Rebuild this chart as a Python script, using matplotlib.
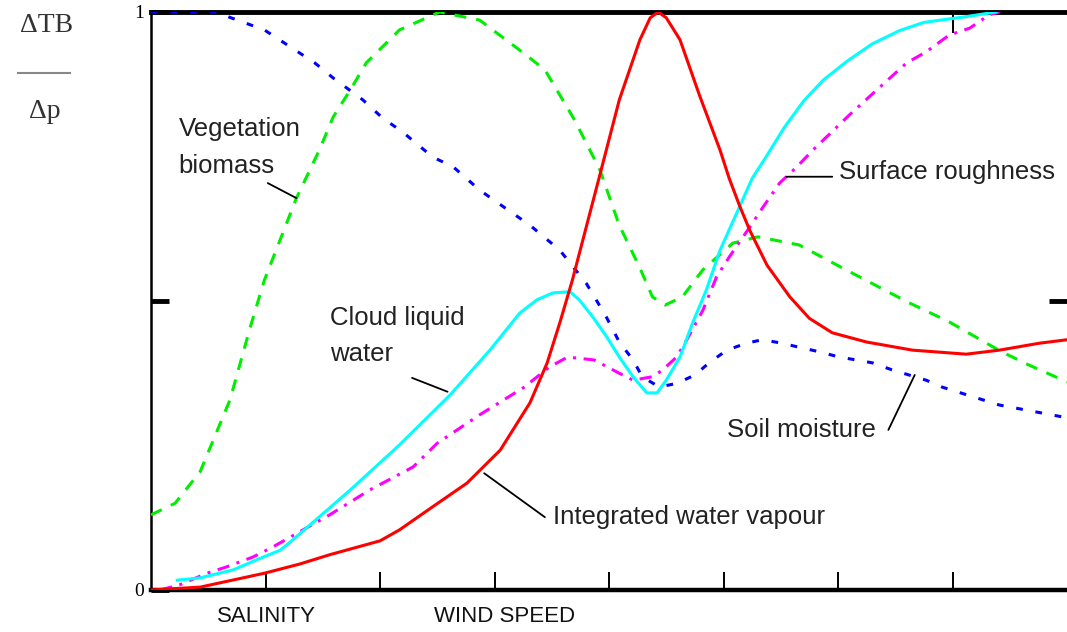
import matplotlib
matplotlib.use("Agg")
import matplotlib.pyplot as plt
from matplotlib.lines import Line2D

# ---------------- data (x: 0..8 along the axis, y: normalised dTB/dp) ----------------
veg_x = [0.00, 0.21, 0.43, 0.69, 0.86, 0.99, 1.27, 1.47, 1.59, 1.74, 1.88, 2.17, 2.52, 2.87,
         3.22, 3.44, 3.70, 3.92, 4.09, 4.27, 4.38, 4.49, 4.64, 4.82, 5.08, 5.30, 5.66, 6.04,
         6.62, 6.97, 7.43, 7.67, 8.00]
veg_y = [0.130, 0.150, 0.205, 0.329, 0.450, 0.536, 0.678, 0.761, 0.818, 0.865, 0.912, 0.969,
         1.000, 0.986, 0.934, 0.900, 0.813, 0.727, 0.631, 0.557, 0.507, 0.493, 0.507, 0.554,
         0.600, 0.611, 0.597, 0.557, 0.497, 0.464, 0.412, 0.389, 0.360]

iwv_x = [0.00, 0.43, 0.99, 1.30, 1.56, 2.00, 2.17, 2.46, 2.76, 3.05, 3.31, 3.46, 3.57, 3.68,
         3.92, 4.09, 4.27, 4.36, 4.43, 4.50, 4.62, 4.79, 4.97, 5.05, 5.14, 5.23, 5.38, 5.58,
         5.75, 5.95, 6.25, 6.65, 7.12, 7.41, 7.76, 8.00]
iwv_y = [0.000, 0.005, 0.029, 0.045, 0.061, 0.085, 0.104, 0.144, 0.185, 0.242, 0.324, 0.393,
         0.462, 0.536, 0.718, 0.848, 0.952, 0.990, 1.000, 0.990, 0.952, 0.856, 0.761, 0.712,
         0.665, 0.622, 0.562, 0.507, 0.470, 0.445, 0.429, 0.415, 0.408, 0.415, 0.427, 0.433]

soil_x = [0.00, 0.56, 0.99, 1.43, 1.59, 1.85, 2.02, 2.20, 2.46, 2.64, 2.87, 3.02, 3.31, 3.57,
          3.80, 3.90, 3.98, 4.09, 4.21, 4.29, 4.44, 4.60, 4.75, 4.88, 5.03, 5.20, 5.34, 5.51,
          5.66, 5.84, 6.01, 6.16, 6.30, 6.47, 6.62, 6.77, 6.91, 7.41, 8.00]
soil_y = [1.000, 1.000, 0.969, 0.912, 0.886, 0.848, 0.817, 0.792, 0.749, 0.732, 0.692, 0.671,
          0.631, 0.588, 0.531, 0.498, 0.471, 0.429, 0.398, 0.369, 0.351, 0.358, 0.372, 0.394,
          0.415, 0.427, 0.433, 0.427, 0.420, 0.412, 0.403, 0.398, 0.393, 0.381, 0.372, 0.363,
          0.351, 0.320, 0.298]

cloud_x = [0.23, 0.43, 0.72, 0.92, 1.13, 1.24, 1.74, 2.17, 2.61, 2.96, 3.22, 3.37, 3.51, 3.66,
           3.74, 3.86, 3.98, 4.09, 4.21, 4.33, 4.42, 4.50, 4.62, 4.73, 4.85, 4.97, 5.14, 5.25,
           5.38, 5.53, 5.70, 5.87, 6.08, 6.30, 6.54, 6.75, 7.12, 7.38]
cloud_y = [0.017, 0.021, 0.035, 0.052, 0.069, 0.087, 0.173, 0.251, 0.337, 0.415, 0.479, 0.502,
           0.514, 0.516, 0.502, 0.472, 0.438, 0.403, 0.369, 0.341, 0.341, 0.363, 0.403, 0.462,
           0.519, 0.588, 0.663, 0.712, 0.752, 0.800, 0.846, 0.882, 0.915, 0.945, 0.968, 0.982,
           0.992, 1.000]

rough_x = [0.08, 0.25, 0.49, 0.66, 0.89, 1.06, 1.56, 1.91, 2.29, 2.50, 2.87, 3.26, 3.48, 3.64,
           3.87, 4.09, 4.21, 4.38, 4.47, 4.59, 4.68, 4.82, 4.94, 5.05, 5.23, 5.34, 5.49, 5.64,
           5.78, 6.10, 6.36, 6.60, 6.77, 6.97, 7.15, 7.32, 7.41]
rough_y = [0.000, 0.009, 0.029, 0.040, 0.057, 0.074, 0.130, 0.173, 0.213, 0.254, 0.303, 0.351,
           0.386, 0.403, 0.398, 0.375, 0.363, 0.369, 0.381, 0.403, 0.433, 0.484, 0.542, 0.576,
           0.628, 0.661, 0.704, 0.732, 0.761, 0.822, 0.869, 0.912, 0.931, 0.960, 0.972, 0.995,
           1.000]

# annotations: label, text anchor (x, y), pointer start, pointer end
labels = ["Vegetation\nbiomass", "Surface roughness", "Cloud liquid\nwater",
          "Soil moisture", "Integrated water vapour"]
label_pos = [(0.24, 0.818), (6.01, 0.723), (1.56, 0.492), (5.03, 0.277), (3.51, 0.126)]
label_va = ["top", "center", "top", "center", "center"]
ptr_from = [(1.02, 0.704), (5.95, 0.715), (2.28, 0.367), (6.44, 0.277), (3.44, 0.126)]
ptr_to = [(1.27, 0.678), (5.55, 0.715), (2.59, 0.343), (6.67, 0.372), (2.91, 0.202)]

axis_labels = ["SALINITY", "WIND SPEED"]
axis_label_x = [1.01, 3.09]

# ---------------- figure ----------------
W, H = 1067, 632
fig = plt.figure(figsize=(W / 100, H / 100), dpi=100)
ax = fig.add_axes([151 / W, 1 - 590 / H, (W - 151) / W, (590 - 12) / H])
ax.set_xlim(0, 8)
ax.set_ylim(0, 1)

lw = 2.2
ax.plot(veg_x, veg_y, color="#00ee00", lw=lw, linestyle=(0, (3.9, 3.3)), zorder=3)
ax.plot(soil_x, soil_y, color="#0000ff", lw=lw, linestyle=(0, (2.2, 4.2)), zorder=3)
ax.plot(rough_x, rough_y, color="#ff00ff", lw=lw, linestyle=(0, (4, 2.5, 1, 2.5)), zorder=3)
ax.plot(cloud_x, cloud_y, color="#00ffff", lw=lw, zorder=4)
ax.plot(iwv_x, iwv_y, color="#ff0000", lw=lw, zorder=5)

font = "Liberation Sans"
for lab, (tx, ty), va, p0, p1 in zip(labels, label_pos, label_va, ptr_from, ptr_to):
    ax.text(tx, ty, lab, ha="left", va=va, fontsize=18.5, family=font,
            color="#222222", linespacing=1.65, zorder=6)
    ax.annotate("", xy=p1, xytext=p0,
                arrowprops=dict(arrowstyle="-", lw=1.3, color="black",
                                shrinkA=0, shrinkB=0), zorder=6)

for lab, lx in zip(axis_labels, axis_label_x):
    ax.text(lx, -0.045, lab, ha="center", va="center", fontsize=16, family=font,
            color="#111111", clip_on=False)

# spines and ticks
ax.spines["right"].set_visible(False)
ax.spines["left"].set_linewidth(1.8)
ax.spines["bottom"].set_linewidth(3.2)
ax.spines["top"].set_linewidth(3.5)

ax.set_xticks([1, 2, 3, 4, 5, 6, 7])
ax.set_xticklabels([])
ax.tick_params(axis="x", direction="in", length=13, width=1.4, bottom=True, top=False)
ax.set_yticks([0, 0.5, 1])
ax.set_yticklabels(["0", "", "1"], family="Liberation Serif", fontsize=14)
ax.tick_params(axis="y", direction="in", length=13, width=3.5, pad=5, left=True, right=False)

secx = ax.secondary_xaxis("top")
secx.set_xticks([7])
secx.set_xticklabels([])
secx.tick_params(direction="in", length=15, width=1.4)
secx.spines["top"].set_visible(False)

secy = ax.secondary_yaxis("right")
secy.set_yticks([0.5])
secy.set_yticklabels([])
secy.tick_params(direction="in", length=13, width=3.5)
secy.spines["right"].set_visible(False)

# y label: dTB / dp
fig.text(47 / W, 1 - 25 / H, "\u0394TB", ha="center", va="center", fontsize=20,
         family="Liberation Serif", color="#333333")
fig.add_artist(Line2D([18 / W, 70 / W], [1 - 73 / H, 1 - 73 / H], color="#888888", lw=1.5))
fig.text(45 / W, 1 - 112 / H, "\u0394p", ha="center", va="center", fontsize=20,
         family="Liberation Serif", color="#333333")

fig.savefig("out.png", dpi=100)
